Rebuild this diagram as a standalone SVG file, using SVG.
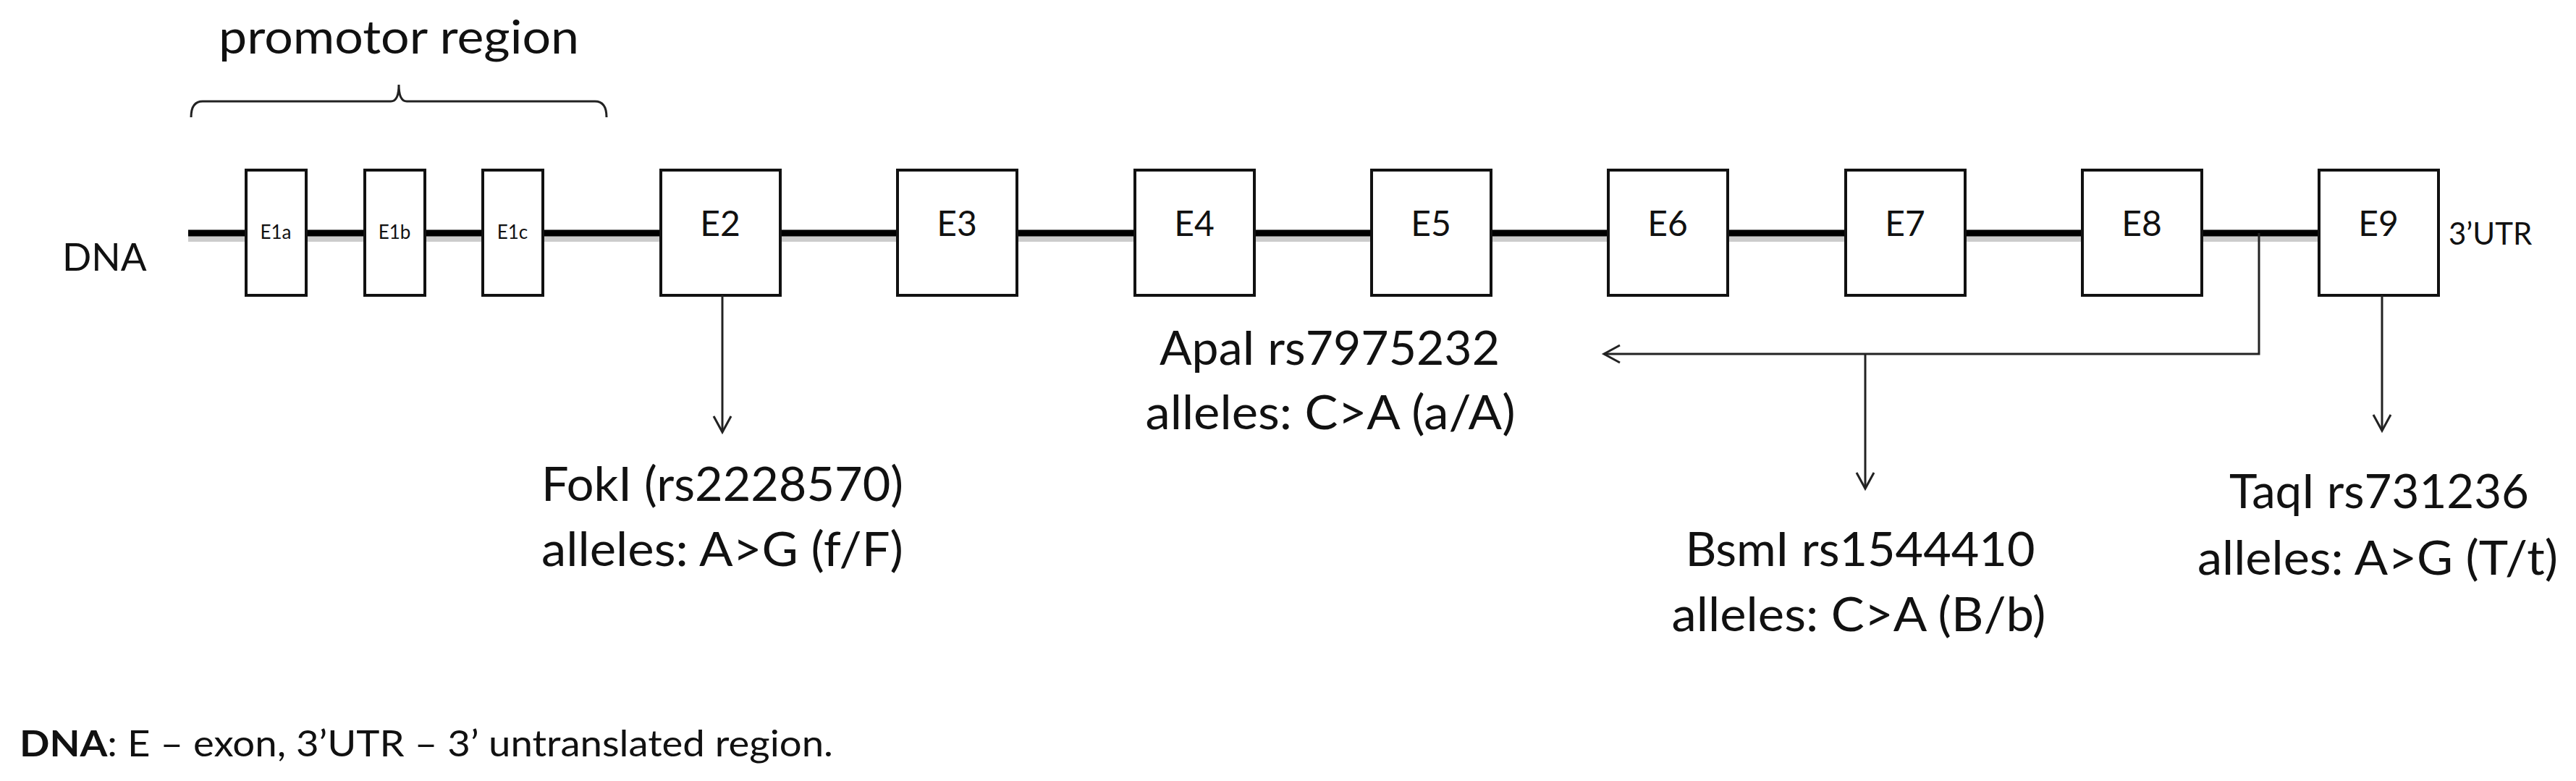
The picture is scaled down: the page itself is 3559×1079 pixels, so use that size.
<svg xmlns="http://www.w3.org/2000/svg" width="3559" height="1079" viewBox="0 0 3559 1079">
<style>
text{font-family:Lato,"Open Sans","Liberation Sans",sans-serif;fill:#111}
.ex{fill:#fff;stroke:#111;stroke-width:4}
.lbl{font-size:48px;text-anchor:middle}
.sm{font-size:26px;text-anchor:middle}
.big{font-size:66px;text-anchor:middle}
.ln{fill:none;stroke:#222;stroke-width:3}
</style>
<defs>
<marker id="ah" markerWidth="30" markerHeight="30" refX="24" refY="15" orient="auto" markerUnits="userSpaceOnUse">
<path d="M2,3 L24,15 L2,27" fill="none" stroke="#222" stroke-width="3"/>
</marker>
</defs>
<rect width="3559" height="1079" fill="#fff"/>
<g id="dna">
<line x1="260" y1="330" x2="3204" y2="330" stroke="#ccc" stroke-width="8"/>
<line x1="260" y1="322" x2="3204" y2="322" stroke="#000" stroke-width="9"/>
<text x="86" y="374" font-size="53">DNA</text>
</g>
<g id="promotor">
<path class="ln" d="M264,162 Q264,140 280,140 L540,140 Q551,140 551,117 Q551,140 562,140 L822,140 Q838,140 838,162" stroke-width="4"/>
<text x="302" y="74" font-size="64" textLength="498" lengthAdjust="spacingAndGlyphs">promotor region</text>
</g>
<g id="E1a"><rect class="ex" x="340" y="235" width="83" height="173"/><text class="sm" x="381" y="330">E1a</text></g>
<g id="E1b"><rect class="ex" x="504" y="235" width="83" height="173"/><text class="sm" x="545" y="330">E1b</text></g>
<g id="E1c"><rect class="ex" x="667" y="235" width="83" height="173"/><text class="sm" x="708" y="330">E1c</text></g>
<g id="E2"><rect class="ex" x="913" y="235" width="165" height="173"/><text class="lbl" x="995" y="326">E2</text></g>
<g id="E3"><rect class="ex" x="1240" y="235" width="165" height="173"/><text class="lbl" x="1322" y="326">E3</text></g>
<g id="E4"><rect class="ex" x="1568" y="235" width="165" height="173"/><text class="lbl" x="1650" y="326">E4</text></g>
<g id="E5"><rect class="ex" x="1895" y="235" width="165" height="173"/><text class="lbl" x="1977" y="326">E5</text></g>
<g id="E6"><rect class="ex" x="2222" y="235" width="165" height="173"/><text class="lbl" x="2304" y="326">E6</text></g>
<g id="E7"><rect class="ex" x="2550" y="235" width="165" height="173"/><text class="lbl" x="2632" y="326">E7</text></g>
<g id="E8"><rect class="ex" x="2877" y="235" width="165" height="173"/><text class="lbl" x="2959" y="326">E8</text></g>
<g id="E9"><rect class="ex" x="3204" y="235" width="165" height="173"/><text class="lbl" x="3286" y="326">E9</text></g>
<g id="utr"><text x="3383" y="338" font-size="42">3’UTR</text></g>
<g id="connectors">
<line class="ln" x1="998" y1="408" x2="998" y2="597" marker-end="url(#ah)"/>
<polyline class="ln" points="3121,322 3121,489 2216,489" marker-end="url(#ah)"/>
<line class="ln" x1="2577" y1="489" x2="2577" y2="675" marker-end="url(#ah)"/>
<line class="ln" x1="3291" y1="408" x2="3291" y2="595" marker-end="url(#ah)"/>
</g>
<g id="fokI"><text class="big" x="998" y="692" textLength="500" lengthAdjust="spacingAndGlyphs">FokI (rs2228570)</text><text class="big" x="998" y="782" textLength="500" lengthAdjust="spacingAndGlyphs">alleles: A&gt;G (f/F)</text></g>
<g id="apaI"><text class="big" x="1837" y="504" textLength="470" lengthAdjust="spacingAndGlyphs">ApaI rs7975232</text><text class="big" x="1838" y="593" textLength="511" lengthAdjust="spacingAndGlyphs">alleles: C&gt;A (a/A)</text></g>
<g id="bsmI"><text class="big" x="2570" y="782" textLength="483" lengthAdjust="spacingAndGlyphs">BsmI rs1544410</text><text class="big" x="2568" y="872" textLength="517" lengthAdjust="spacingAndGlyphs">alleles: C&gt;A (B/b)</text></g>
<g id="taqI"><text class="big" x="3287" y="702" textLength="414" lengthAdjust="spacingAndGlyphs">TaqI rs731236</text><text class="big" x="3285" y="794" textLength="498" lengthAdjust="spacingAndGlyphs">alleles: A&gt;G (T/t)</text></g>
<g id="note"><text x="27" y="1045" font-size="50" textLength="1124" lengthAdjust="spacingAndGlyphs"><tspan font-weight="bold">DNA</tspan>: E – exon, 3’UTR – 3’ untranslated region.</text></g>
</svg>
